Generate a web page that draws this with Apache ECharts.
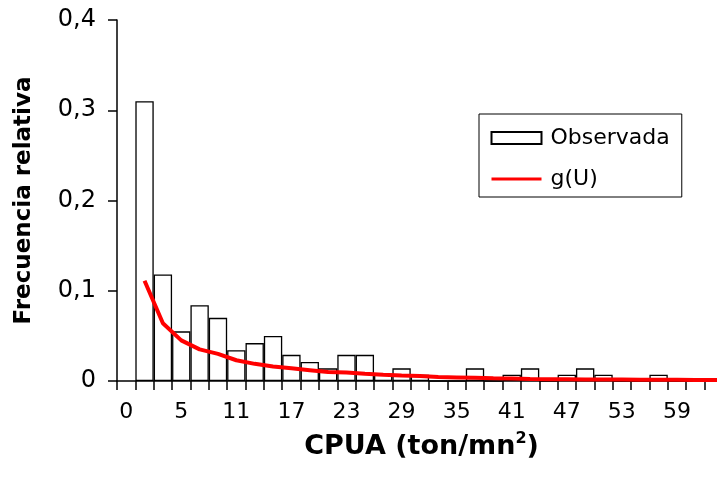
<!DOCTYPE html>
<html>
<head>
<meta charset="utf-8">
<script src="https://cdn.jsdelivr.net/npm/echarts@6/dist/echarts.min.js"></script>
<style>
  html, body { margin: 0; padding: 0; background: #ffffff; }
  #chart { width: 717px; height: 502px; }
</style>
</head>
<body>
<div id="chart"></div>
<script>
// CPUA class marks (only every third one is labelled)
const categories = ["0","1","3","5","7","9","11","13","15","17","19","21","23","25","27","29","31",
  "33","35","37","39","41","43","45","47","49","51","53","55","57","59","61","63","65"];

// observed relative frequency per class
const observada = [null, 0.310, 0.118, 0.055, 0.084, 0.070, 0.034, 0.042, 0.050, 0.029, 0.021,
  0.014, 0.029, 0.029, 0.007, 0.014, 0.007, 0, 0, 0.014, 0, 0.007, 0.014, 0, 0.007, 0.014,
  0.007, 0, 0, 0.007, 0, 0, 0, 0];

// fitted density g(U)
const gU = [null, 0.111, 0.064, 0.045, 0.035, 0.030, 0.023, 0.019, 0.016, 0.014, 0.012, 0.010,
  0.0095, 0.008, 0.0068, 0.006, 0.0055, 0.0045, 0.004, 0.0035, 0.003, 0.0028, 0.0022, 0.002,
  0.0019, 0.0018, 0.0017, 0.0016, 0.0015, 0.0014, 0.0013, 0.0012, 0.0012, 0.0011];

const yTicks = [0, 0.1, 0.2, 0.3, 0.4];

const FONT = "DejaVu Sans";
const chart = echarts.init(document.getElementById('chart'), null, { renderer: 'canvas' });

chart.setOption({
  animation: false,
  backgroundColor: '#ffffff',
  // plot area runs past the right edge of the canvas; each class is ~18.4px wide
  grid: { left: 117, top: 20, width: 624.2, height: 361, containLabel: false, outerBoundsMode: 'none' },
  legend: {
    orient: 'vertical',
    left: 479,
    top: 114,
    backgroundColor: '#ffffff',
    borderColor: '#000000',
    borderWidth: 1,
    padding: [11, 12, 5, 11],
    itemWidth: 50,
    itemHeight: 12,
    itemGap: 15,
    textStyle: { fontFamily: FONT, fontSize: 22, color: '#000000', lineHeight: 26, padding: [0, 0, 0, 4] },
    data: [
      { name: 'Observada', icon: 'rect' },
      { name: 'g(U)', itemStyle: { opacity: 0 }, lineStyle: { width: 3 } }
    ]
  },
  xAxis: {
    type: 'category',
    data: categories,
    boundaryGap: true,
    axisLine: { lineStyle: { color: '#000000', width: 1.5 } },
    axisTick: { show: true, inside: false, length: 9, interval: 0, lineStyle: { color: '#000000', width: 1.5 } },
    axisLabel: { interval: 2, margin: 20, color: '#000000', fontFamily: FONT, fontSize: 22 },
    name: '{m|CPUA (ton/mn}{s|2}{m|)}',
    nameLocation: 'middle',
    nameGap: 50,
    nameTextStyle: {
      padding: [0, 15, 0, 0],
      rich: {
        m: { fontFamily: FONT, fontWeight: 'bold', fontSize: 27, color: '#000000', lineHeight: 32 },
        s: { fontFamily: FONT, fontWeight: 'bold', fontSize: 16, color: '#000000', lineHeight: 32, verticalAlign: 'top', padding: [0, 0, 16, 0] }
      }
    },
    splitLine: { show: false }
  },
  yAxis: {
    type: 'value',
    min: yTicks[0],
    max: yTicks[yTicks.length - 1],
    interval: 0.1,
    axisLine: { show: true, lineStyle: { color: '#000000', width: 1.5 } },
    axisTick: { show: true, inside: false, length: 9, lineStyle: { color: '#000000', width: 1.5 } },
    axisLabel: {
      margin: 21,
      color: '#000000',
      fontFamily: FONT,
      fontSize: 24,
      formatter: v => (Math.round(v * 10) / 10).toString().replace('.', ',')
    },
    splitLine: { show: false },
    name: 'Frecuencia relativa',
    nameLocation: 'middle',
    nameRotate: 90,
    nameGap: 81,
    nameTextStyle: { fontFamily: FONT, fontWeight: 'bold', fontSize: 23, color: '#000000' }
  },
  series: [
    {
      name: 'Observada',
      type: 'bar',
      data: observada,
      barWidth: '100%',
      barCategoryGap: '0%',
      itemStyle: { color: '#ffffff', borderColor: '#000000', borderWidth: 1.3 },
      z: 2
    },
    {
      name: 'g(U)',
      type: 'line',
      data: gU,
      symbol: 'circle',
      symbolSize: 0,
      showSymbol: false,
      connectNulls: false,
      lineStyle: { color: '#ff0000', width: 4 },
      itemStyle: { color: '#ff0000' },
      z: 5
    }
  ]
});
</script>
</body>
</html>
